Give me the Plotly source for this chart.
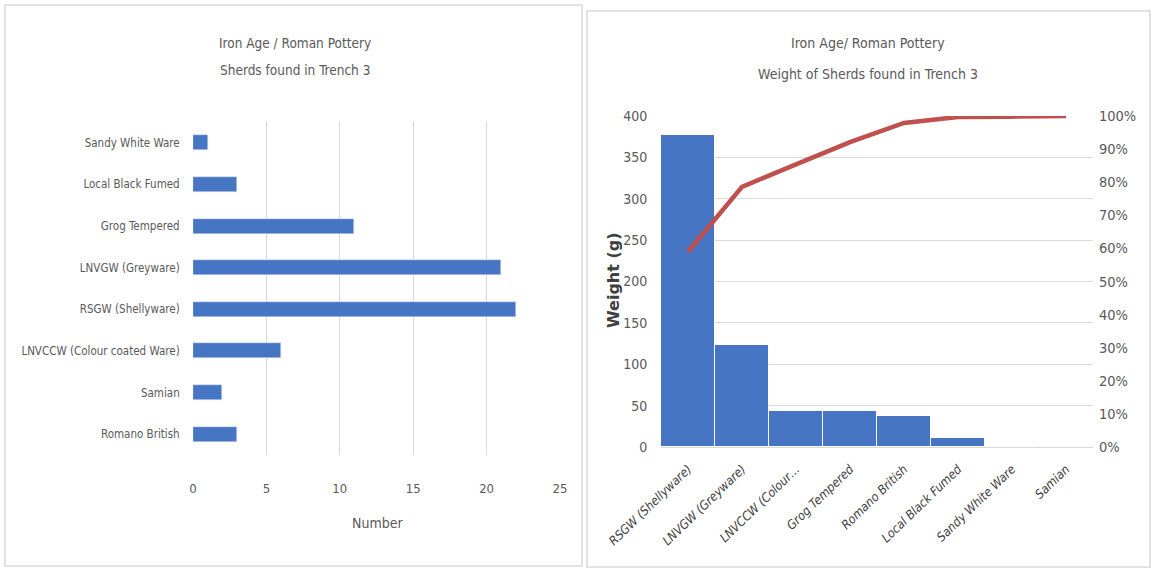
import plotly.graph_objects as go

# ---------------- data ----------------
count_categories = ["Romano British", "Samian", "LNVCCW (Colour coated Ware)",
                    "RSGW (Shellyware)", "LNVGW (Greyware)", "Grog Tempered",
                    "Local Black Fumed", "Sandy White Ware"]
count_values = [3, 2, 6, 22, 21, 11, 3, 1]

weight_categories = ["RSGW (Shellyware)", "LNVGW (Greyware)", "LNVCCW (Colour coated Ware)",
                     "Grog Tempered", "Romano British", "Local Black Fumed",
                     "Sandy White Ware", "Samian"]
weight_tick_labels = ["RSGW (Shellyware)", "LNVGW (Greyware)", "LNVCCW (Colour\u2026",
                      "Grog Tempered", "Romano British", "Local Black Fumed",
                      "Sandy White Ware", "Samian"]
weight_values = [377, 123, 43, 43, 37, 11, 1, 1]
cumulative_pct = [0.59, 0.786, 0.854, 0.921, 0.979, 0.997, 0.998, 1.0]

count_ticks = [0, 5, 10, 15, 20, 25]
weight_ticks = [0, 50, 100, 150, 200, 250, 300, 350, 400]

# ---------------- style ----------------
W, H = 1151, 568
FONT = "DejaVu Sans Condensed, Lato, sans-serif"
GREY = "#595959"
GRID = "#d9d9d9"
BLUE = "#4675C4"
RED = "#C0504D"


def px_x(p):
    return p / W


def px_y(p):
    return 1 - p / H


fig = go.Figure()

fig.add_trace(go.Bar(
    x=count_values, y=count_categories, orientation="h",
    marker=dict(color=BLUE), width=0.36,
    xaxis="x", yaxis="y", showlegend=False,
))

fig.add_trace(go.Bar(
    x=weight_categories, y=weight_values,
    marker=dict(color=BLUE, line=dict(color="white", width=1)),
    xaxis="x2", yaxis="y2", showlegend=False,
))

fig.add_trace(go.Scatter(
    x=weight_categories, y=cumulative_pct, mode="lines",
    line=dict(color=RED, width=4.5),
    xaxis="x2", yaxis="y3", showlegend=False,
))


def note(text, x, y, size=14, **kw):
    d = dict(text=text, x=px_x(x), y=px_y(y), xref="paper", yref="paper",
             xanchor="center", yanchor="middle", showarrow=False,
             font=dict(family=FONT, size=size, color=GREY))
    d.update(kw)
    return d


fig.update_layout(
    width=W, height=H,
    margin=dict(l=0, r=0, t=0, b=0, autoexpand=False),
    paper_bgcolor="white", plot_bgcolor="white",
    font=dict(family=FONT, color=GREY, size=14),
    bargap=0,
    xaxis=dict(
        domain=[px_x(193), px_x(560)], anchor="y", automargin=False,
        range=[0, 25], tickvals=count_ticks,
        showgrid=True, gridcolor=GRID, gridwidth=1, zeroline=False,
        showline=False,
        ticks="outside", ticklen=21, tickcolor="rgba(0,0,0,0)",
        tickfont=dict(family=FONT, size=13, color=GREY),
    ),
    yaxis=dict(
        domain=[px_y(455), px_y(122)], anchor="x", automargin=False,
        type="category", categoryorder="array", categoryarray=count_categories,
        showgrid=False, zeroline=False, showline=False,
        ticks="outside", ticklen=10, tickcolor="rgba(0,0,0,0)",
        tickfont=dict(family=FONT, size=11.5, color=GREY),
    ),
    xaxis2=dict(
        domain=[px_x(661), px_x(1093)], anchor="y2", automargin=False,
        type="category", categoryorder="array", categoryarray=weight_categories,
        tickvals=weight_categories,
        ticktext=["<i>" + t + "</i>" for t in weight_tick_labels],
        tickangle=-44,
        showgrid=False, zeroline=False,
        showline=True, linecolor=GRID, linewidth=1,
        ticks="outside", ticklen=9, tickcolor="rgba(0,0,0,0)",
        tickfont=dict(family=FONT, size=12.5, color="#404040"),
    ),
    yaxis2=dict(
        domain=[px_y(447), px_y(116)], anchor="x2", automargin=False,
        range=[0, 400], tickvals=weight_ticks,
        showgrid=True, gridcolor=GRID, gridwidth=1, zeroline=False,
        ticks="outside", ticklen=10, tickcolor="rgba(0,0,0,0)",
        tickfont=dict(family=FONT, size=14, color=GREY),
    ),
    yaxis3=dict(
        overlaying="y2", side="right", anchor="x2", automargin=False,
        range=[0, 1], dtick=0.1, tickformat=".0%",
        showgrid=False, zeroline=False,
        ticks="outside", ticklen=2, tickcolor="rgba(0,0,0,0)",
        tickfont=dict(family=FONT, size=14.5, color=GREY),
    ),
    shapes=[
        dict(type="rect", xref="paper", yref="paper",
             x0=px_x(5), x1=px_x(582), y0=px_y(566), y1=px_y(5),
             line=dict(color=GRID, width=1.5), layer="below"),
        dict(type="rect", xref="paper", yref="paper",
             x0=px_x(587), x1=px_x(1150), y0=px_y(567), y1=px_y(11),
             line=dict(color=GRID, width=1.5), layer="below"),
    ],
    annotations=[
        note("Iron Age / Roman Pottery", 295, 43, 13.5),
        note("Sherds found in Trench 3", 295, 70, 13.5),
        note("Iron Age/ Roman Pottery", 868, 43, 14),
        note("Weight of Sherds found in Trench 3", 868, 74, 14),
        note("Number", 377, 523, 14),
        dict(text="Weight (g)", x=px_x(613), y=px_y(280),
             xref="paper", yref="paper", xanchor="center", yanchor="middle",
             showarrow=False, textangle=-90,
             font=dict(family="DejaVu Sans", size=16, color="#404040", weight="bold")),
    ],
)

fig.write_html("out.html")
